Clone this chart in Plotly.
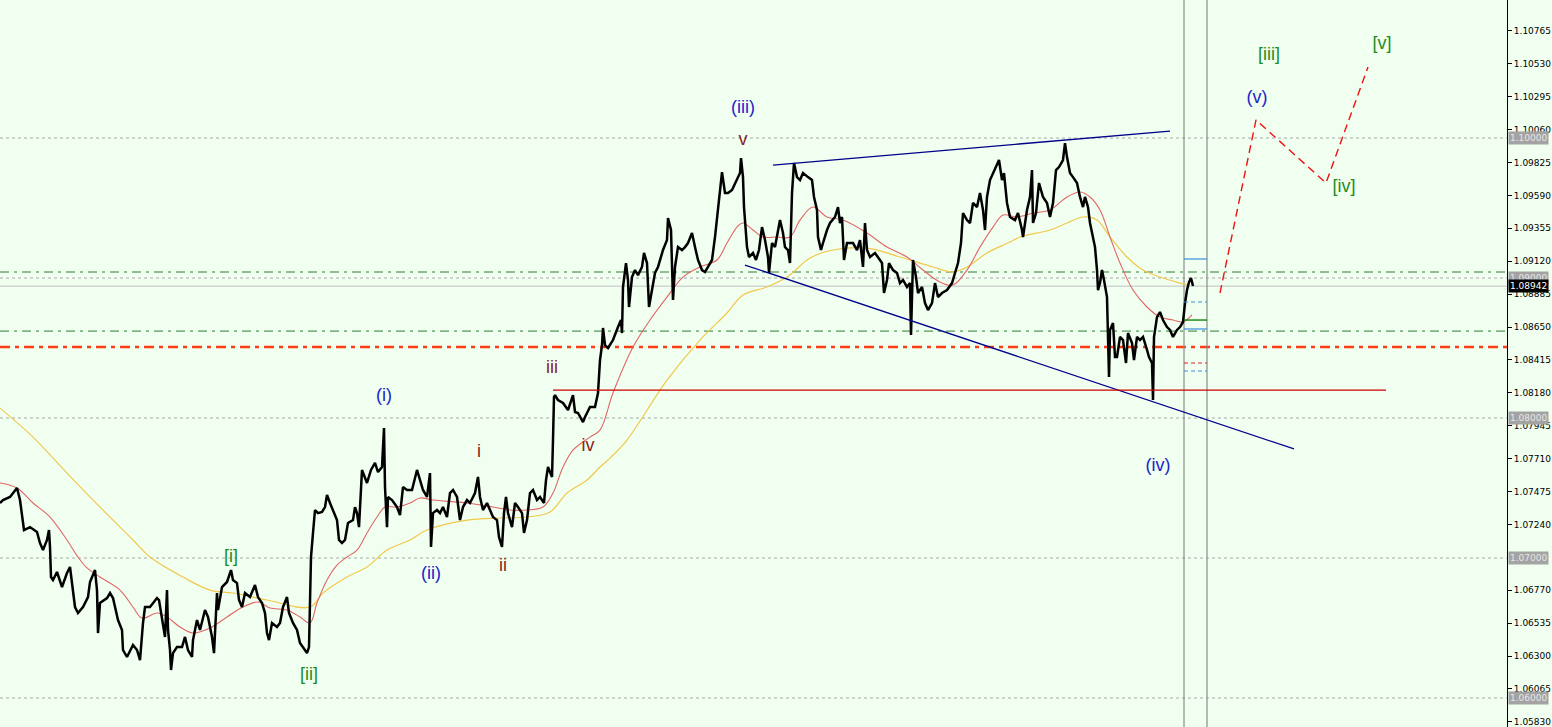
import plotly.graph_objects as go

# ---------------- data ----------------
PRICE_X = [0,3,10,17,20,24,30,37,40,43,47,49,50,51,53,57,62,67,70,72,75,78,83,88,90,95,97,98,100,107,110,113,118,122,123,127,133,137,140,143,145,150,157,159,162,165,167,168,170,171,173,177,182,185,188,192,193,197,
           200,205,208,212,214,217,218,222,227,231,233,237,239,242,245,250,255,258,262,265,267,269,272,277,280,283,287,289,293,297,300,303,307,309,311,313,315,318,322,325,327,330,333,337,339,342,345,348,353,355,357,359,362,365,367,371,375,378,382,384,385,387,388,392,397,
           400,403,407,412,417,420,423,427,430,431,433,437,440,443,447,450,453,457,460,463,467,470,475,478,480,483,487,490,493,497,499,502,504,506,508,512,515,518,522,524,527,530,533,537,540,544,546,548,552,553,554,555,558,563,568,573,575,578,583,585,590,595,598,
           600,602,603,605,608,613,618,621,622,623,626,628,629,632,635,638,642,644,647,649,652,655,658,663,667,668,671,673,675,678,682,685,688,692,695,698,702,705,708,712,715,718,722,725,728,732,737,740,741,743,744,747,749,753,756,759,762,765,768,769,772,775,780,783,785,788,790,792,794,797,
           800,803,808,812,814,817,818,821,823,827,830,835,838,840,842,843,844,847,850,853,857,860,863,865,867,870,875,878,882,884,887,889,893,897,900,903,907,910,911,913,916,918,922,925,928,932,935,938,942,947,952,955,958,961,963,967,970,973,977,980,983,985,987,990,993,997,999,
           1002,1004,1007,1010,1015,1018,1022,1023,1027,1030,1032,1033,1036,1039,1043,1047,1050,1053,1056,1059,1063,1065,1067,1070,1073,1077,1080,1083,1085,1088,1090,1093,1095,1097,1098,1100,1102,1104,1106,1107,1109,1110,1113,1115,1117,1120,1123,1126,1128,1132,1134,1137,1140,1143,1147,1149,1152,1153,1154,1157,1160,1163,1167,1170,1173,1177,1180,1183,1185,1187,1189,1191,1193]
PRICE = [1.07393,1.07414,1.07436,1.07500,1.07414,1.07200,1.07221,1.07186,1.07107,1.07057,1.07129,1.07200,1.07079,1.06864,1.06843,1.06900,1.06793,1.06893,1.06936,1.06821,1.06650,1.06607,1.06650,1.06721,1.06829,1.06914,1.06771,1.06464,1.06679,1.06714,1.06750,1.06714,1.06557,1.06486,1.06343,1.06293,1.06379,1.06343,1.06271,1.06536,1.06650,1.06650,1.06714,1.06700,1.06557,1.06436,1.06771,1.06486,1.06343,1.06200,1.06321,1.06364,1.06364,1.06436,1.06343,1.06293,1.06414,1.06557,
         1.06486,1.06629,1.06579,1.06436,1.06321,1.06750,1.06629,1.06793,1.06829,1.06914,1.06843,1.06821,1.06700,1.06650,1.06750,1.06721,1.06807,1.06721,1.06679,1.06607,1.06464,1.06414,1.06536,1.06507,1.06536,1.06650,1.06721,1.06607,1.06536,1.06486,1.06393,1.06364,1.06321,1.06364,1.07007,1.07179,1.07343,1.07321,1.07329,1.07364,1.07450,1.07393,1.07343,1.07271,1.07129,1.07107,1.07129,1.07250,1.07271,1.07364,1.07321,1.07221,1.07629,1.07579,1.07536,1.07629,1.07679,1.07614,1.07650,1.07929,1.07507,1.07221,1.07436,1.07414,1.07364,
         1.07307,1.07507,1.07486,1.07486,1.07629,1.07557,1.07486,1.07436,1.07607,1.07079,1.07321,1.07343,1.07321,1.07364,1.07293,1.07464,1.07486,1.07436,1.07271,1.07364,1.07414,1.07393,1.07464,1.07579,1.07436,1.07343,1.07393,1.07343,1.07293,1.07271,1.07150,1.07079,1.07321,1.07436,1.07321,1.07221,1.07393,1.07364,1.07321,1.07179,1.07271,1.07464,1.07486,1.07414,1.07436,1.07393,1.07557,1.07650,1.07579,1.07843,1.08150,1.08164,1.08129,1.08107,1.08057,1.08164,1.08043,1.08036,1.07971,1.08007,1.08079,1.08079,1.08179,
         1.08414,1.08521,1.08643,1.08521,1.08500,1.08557,1.08650,1.08700,1.08607,1.08936,1.09107,1.08986,1.08793,1.09007,1.09057,1.09021,1.09079,1.09179,1.09107,1.08793,1.08914,1.09036,1.09079,1.09200,1.09271,1.09429,1.09343,1.08843,1.09079,1.09221,1.09200,1.09221,1.09250,1.09321,1.09221,1.09129,1.09057,1.09043,1.09079,1.09129,1.09293,1.09486,1.09757,1.09607,1.09607,1.09629,1.09700,1.09750,1.09857,1.09721,1.09507,1.09221,1.09150,1.09179,1.09129,1.09200,1.09364,1.09271,1.09150,1.09036,1.09250,1.09221,1.09414,1.09321,1.09221,1.09200,1.09107,1.09607,1.09821,1.09721,
         1.09700,1.09750,1.09721,1.09700,1.09579,1.09486,1.09293,1.09200,1.09250,1.09343,1.09393,1.09436,1.09507,1.09393,1.09436,1.09293,1.09129,1.09250,1.09250,1.09250,1.09200,1.09271,1.09079,1.09393,1.09200,1.09150,1.09179,1.09150,1.09107,1.08893,1.08986,1.09107,1.09057,1.09036,1.08964,1.08986,1.08936,1.08964,1.08593,1.09129,1.09007,1.08893,1.08936,1.08821,1.08771,1.08821,1.08964,1.08864,1.08893,1.08914,1.08964,1.09036,1.09107,1.09250,1.09464,1.09414,1.09393,1.09536,1.09507,1.09607,1.09486,1.09343,1.09579,1.09700,1.09750,1.09821,1.09843,
         1.09700,1.09750,1.09536,1.09436,1.09414,1.09464,1.09343,1.09293,1.09486,1.09579,1.09771,1.09393,1.09464,1.09679,1.09579,1.09536,1.09436,1.09536,1.09771,1.09793,1.09843,1.09964,1.09864,1.09750,1.09721,1.09679,1.09579,1.09507,1.09579,1.09507,1.09393,1.09293,1.09221,1.09057,1.08914,1.08964,1.09057,1.08986,1.08914,1.08864,1.08293,1.08629,1.08679,1.08436,1.08436,1.08579,1.08557,1.08393,1.08607,1.08536,1.08414,1.08579,1.08557,1.08579,1.08486,1.08436,1.08393,1.08129,1.08579,1.08721,1.08757,1.08700,1.08650,1.08629,1.08579,1.08629,1.08650,1.08686,1.08821,1.08914,1.08971,1.09000,1.08943]

MA_FAST_X = [0,17,33,50,67,78,87,100,120,133,142,157,167,180,193,210,227,243,258,270,287,300,310,317,327,337,347,357,367,377,385,397,410,420,433,467,493,510,527,543,553,563,573,590,600,613,633,650,667,683,700,717,727,737,743,753,763,777,790,800,813,827,843,867,887,907,923,940,953,967,980,993,1003,1017,1033,1050,1067,1080,1090,1100,1110,1120,1133,1147,1160,1173,1183,1192]
MA_FAST = [1.07536,1.07500,1.07393,1.07293,1.07129,1.07007,1.06929,1.06864,1.06771,1.06650,1.06571,1.06607,1.06579,1.06507,1.06464,1.06500,1.06579,1.06650,1.06686,1.06643,1.06629,1.06579,1.06536,1.06679,1.06843,1.06950,1.07007,1.07057,1.07179,1.07293,1.07364,1.07364,1.07393,1.07429,1.07414,1.07393,1.07364,1.07343,1.07343,1.07364,1.07464,1.07650,1.07771,1.07864,1.07914,1.08179,1.08507,1.08700,1.08864,1.09007,1.09079,1.09129,1.09250,1.09364,1.09393,1.09343,1.09293,1.09293,1.09293,1.09414,1.09507,1.09436,1.09414,1.09321,1.09221,1.09150,1.09057,1.08971,1.08950,1.09057,1.09221,1.09364,1.09450,1.09436,1.09464,1.09486,1.09579,1.09614,1.09579,1.09486,1.09293,1.09107,1.08914,1.08793,1.08721,1.08700,1.08686,1.08736]

MA_SLOW_X = [0,33,67,100,133,150,183,210,233,267,310,323,347,367,387,410,427,467,500,527,550,567,587,600,610,627,667,700,727,743,767,787,810,833,867,900,933,953,967,987,1010,1020,1050,1067,1083,1097,1110,1127,1143,1160,1180,1188]
MA_SLOW = [1.08071,1.07864,1.07607,1.07364,1.07129,1.07007,1.06864,1.06771,1.06750,1.06700,1.06650,1.06750,1.06864,1.06936,1.07057,1.07129,1.07200,1.07271,1.07286,1.07293,1.07329,1.07464,1.07557,1.07650,1.07714,1.07843,1.08271,1.08557,1.08750,1.08879,1.08936,1.09007,1.09143,1.09200,1.09214,1.09150,1.09079,1.09043,1.09079,1.09179,1.09257,1.09293,1.09343,1.09393,1.09436,1.09414,1.09293,1.09150,1.09057,1.09007,1.08964,1.08950]

Y_TICKS = [1.10765,1.10530,1.10295,1.10060,1.09825,1.09590,1.09355,1.09120,1.08885,1.08650,1.08415,1.08180,1.07945,1.07710,1.07475,1.07240,1.06770,1.06535,1.06300,1.06065,1.05830]
ROUND_LEVELS = [1.10000, 1.09000, 1.08000, 1.07000, 1.06000]
CURRENT_PRICE = 1.08942
GREEN_LEVELS = [1.09043, 1.08621]
ORANGE_LEVEL = 1.08507
RED_LEVEL = 1.08200
RED_LEVEL_X = [553, 1386]
VLINES_X = [1184, 1207]

UPPER_TREND_X = [773, 1170]
UPPER_TREND = [1.09807, 1.10050]
LOWER_TREND_X = [745, 1294]
LOWER_TREND = [1.09093, 1.07779]

PROJ_X = [1220, 1256, 1326, 1368]
PROJ = [1.08893, 1.10129, 1.09679, 1.10507]

TARGET_BLUE_SOLID = [1.09136, 1.08636]
TARGET_BLUE_DASH = [1.08829, 1.08336]
TARGET_GREEN = [1.08700]
TARGET_RED_DASH = [1.08393]

BLUE_LABELS = ["(i)", "(ii)", "(iii)", "(iv)", "(v)"]
BLUE_X = [384, 431, 743, 1158, 1257]
BLUE_Y = [1.08157, 1.06879, 1.10214, 1.07657, 1.10286]
RED_LABELS = ["i", "ii", "iii", "iv", "v"]
RED_X = [479, 503, 552, 588, 743]
RED_Y = [1.07757, 1.06936, 1.08357, 1.07800, 1.09979]
GREEN_LABELS = ["[i]", "[ii]", "[iii]", "[iv]", "[v]"]
GREEN_X = [231, 309, 1269, 1344, 1382]
GREEN_Y = [1.07007, 1.06164, 1.10593, 1.09650, 1.10671]

Y_RANGE = [1.05793, 1.10986]
X_RANGE = [0, 1507]

# ---------------- figure ----------------
BG = "#f0fff0"
fig = go.Figure()

# moving averages
fig.add_trace(go.Scatter(x=MA_SLOW_X, y=MA_SLOW, mode="lines",
                         line=dict(color="#f2c84b", width=1.2, shape="spline"), hoverinfo="skip"))
fig.add_trace(go.Scatter(x=MA_FAST_X, y=MA_FAST, mode="lines",
                         line=dict(color="#e06666", width=1.1, shape="spline"), hoverinfo="skip"))
# price
fig.add_trace(go.Scatter(x=PRICE_X, y=PRICE, mode="lines",
                         line=dict(color="black", width=2.5), hoverinfo="skip"))
# trend lines
fig.add_trace(go.Scatter(x=UPPER_TREND_X, y=UPPER_TREND, mode="lines",
                         line=dict(color="#00008b", width=1.3), hoverinfo="skip"))
fig.add_trace(go.Scatter(x=LOWER_TREND_X, y=LOWER_TREND, mode="lines",
                         line=dict(color="#00008b", width=1.3), hoverinfo="skip"))
# projection
fig.add_trace(go.Scatter(x=PROJ_X, y=PROJ, mode="lines",
                         line=dict(color="#ee1111", width=1.4, dash="8px,5px"), hoverinfo="skip"))
# red horizontal level
fig.add_trace(go.Scatter(x=RED_LEVEL_X, y=[RED_LEVEL, RED_LEVEL], mode="lines",
                         line=dict(color="#cc0000", width=1.3), hoverinfo="skip"))

# wave labels
for texts, xs, ys, col in [(BLUE_LABELS, BLUE_X, BLUE_Y, "#2323c8"),
                           (RED_LABELS, RED_X, RED_Y, "#8b2323"),
                           (GREEN_LABELS, GREEN_X, GREEN_Y, "#1f8c1f")]:
    fig.add_trace(go.Scatter(x=xs, y=ys, mode="text", text=texts,
                             textfont=dict(family="Liberation Sans, Arial", size=18, color=col),
                             textposition="middle center", hoverinfo="skip"))

shapes = []
for lvl in ROUND_LEVELS:
    shapes.append(dict(type="line", xref="paper", x0=0, x1=1, yref="y", y0=lvl, y1=lvl,
                       line=dict(color="#a8a8a8", width=1, dash="3px,3px"), layer="below"))
for lvl in GREEN_LEVELS:
    shapes.append(dict(type="line", xref="paper", x0=0, x1=1, yref="y", y0=lvl, y1=lvl,
                       line=dict(color="#2e7d32", width=1, dash="9px,5px,3px,5px"), layer="below"))
shapes.append(dict(type="line", xref="paper", x0=0, x1=1, yref="y", y0=ORANGE_LEVEL, y1=ORANGE_LEVEL,
                   line=dict(color="#ff3d12", width=2.5, dash="10px,5px,4px,5px"), layer="below"))
shapes.append(dict(type="line", xref="paper", x0=0, x1=1, yref="y", y0=CURRENT_PRICE, y1=CURRENT_PRICE,
                   line=dict(color="#c0c0c0", width=1), layer="below"))
for vx in VLINES_X:
    shapes.append(dict(type="line", xref="x", x0=vx, x1=vx, yref="paper", y0=0, y1=1,
                       line=dict(color="#8a8a8a", width=1.2), layer="below"))
for lvl in TARGET_BLUE_SOLID:
    shapes.append(dict(type="line", xref="x", x0=VLINES_X[0], x1=VLINES_X[1], yref="y", y0=lvl, y1=lvl,
                       line=dict(color="#3b8ede", width=1.2)))
for lvl in TARGET_BLUE_DASH:
    shapes.append(dict(type="line", xref="x", x0=VLINES_X[0], x1=VLINES_X[1], yref="y", y0=lvl, y1=lvl,
                       line=dict(color="#3b8ede", width=1, dash="4px,3px")))
for lvl in TARGET_GREEN:
    shapes.append(dict(type="line", xref="x", x0=VLINES_X[0], x1=VLINES_X[1], yref="y", y0=lvl, y1=lvl,
                       line=dict(color="#007a00", width=1.3)))
for lvl in TARGET_RED_DASH:
    shapes.append(dict(type="line", xref="x", x0=VLINES_X[0], x1=VLINES_X[1], yref="y", y0=lvl, y1=lvl,
                       line=dict(color="#dd2222", width=1, dash="4px,3px")))

annotations = []
for lvl in ROUND_LEVELS:
    annotations.append(dict(xref="paper", x=1, xanchor="left", xshift=1, yref="y", y=lvl,
                            text=f"{lvl:.5f}", showarrow=False, bgcolor="#a3a3a3",
                            font=dict(family="DejaVu Sans", size=9, color="#e6e6e6"),
                            borderpad=1))
annotations.append(dict(xref="paper", x=1, xanchor="left", xshift=1, yref="y", y=CURRENT_PRICE,
                        text=f"{CURRENT_PRICE:.5f}", showarrow=False, bgcolor="#000000",
                        font=dict(family="DejaVu Sans", size=9, color="#ffffff"),
                        borderpad=1))

fig.update_layout(
    width=1552, height=727,
    margin=dict(l=0, r=45, t=0, b=0),
    paper_bgcolor=BG, plot_bgcolor=BG,
    showlegend=False,
    shapes=shapes, annotations=annotations,
    xaxis=dict(range=X_RANGE, visible=False, fixedrange=True),
    yaxis=dict(range=Y_RANGE, side="right", tickvals=Y_TICKS,
               ticktext=[f"{v:.5f}" for v in Y_TICKS],
               ticks="outside", ticklen=4, tickcolor="black",
               showline=True, linecolor="black", linewidth=1,
               showgrid=False, zeroline=False,
               tickfont=dict(family="DejaVu Sans", size=9, color="black")),
)

fig.write_html("out.html", config={"displayModeBar": False, "staticPlot": True},
               post_script="document.body.style.margin='0px';")
